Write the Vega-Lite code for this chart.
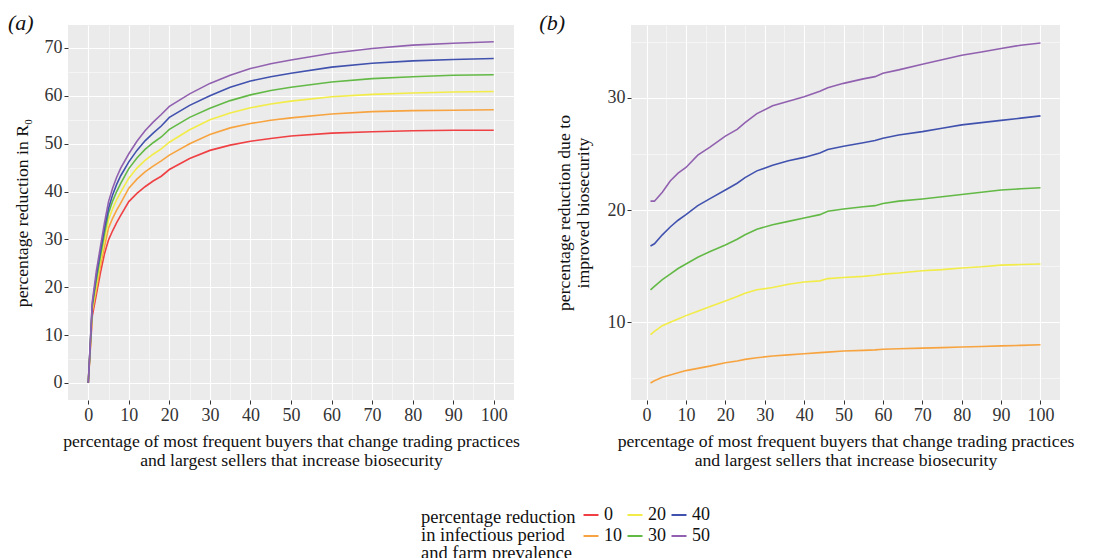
{
  "$schema": "https://vega.github.io/schema/vega-lite/v6.json",
  "padding": {"left": 8, "top": 12, "right": 5, "bottom": 5},
  "config": {
    "font": "Liberation Serif",
    "view": {"stroke": null, "fill": "#EBEBEB"},
    "axis": {
      "domain": false, "grid": true, "gridColor": "#FFFFFF",
      "tickColor": "#333333", "tickSize": 4, "tickWidth": 1,
      "labelFont": "Liberation Serif", "labelFontSize": 18, "labelColor": "#333333", "labelPadding": 2,
      "titleFont": "Liberation Serif", "titleFontSize": 17.7, "titleFontWeight": "normal", "titleColor": "#111111"
    },
    "title": {"font": "Liberation Serif", "fontSize": 22, "fontStyle": "italic", "fontWeight": "normal", "color": "#111111", "anchor": "start", "frame": "bounds", "baseline": "bottom", "offset": -10},
    "legend": {
      "titleFont": "Liberation Serif", "titleFontSize": 18.5, "titleFontWeight": "normal", "titleColor": "#111111",
      "labelFont": "Liberation Serif", "labelFontSize": 18, "labelColor": "#111111"
    }
  },
  "datasets": {
    "a": [
      {"x": 0, "0": 0, "10": 0, "20": 0, "30": 0, "40": 0, "50": 0},
      {"x": 1, "0": 14, "10": 15, "20": 15.5, "30": 16, "40": 16.5, "50": 17},
      {"x": 2, "0": 18.5, "10": 19.5, "20": 20.5, "30": 21.5, "40": 22.5, "50": 23.4},
      {"x": 3, "0": 23, "10": 24.5, "20": 25.5, "30": 26.5, "40": 27.5, "50": 28.5},
      {"x": 4, "0": 27, "10": 28.5, "20": 30, "30": 31.2, "40": 32.3, "50": 33.5},
      {"x": 5, "0": 29.9, "10": 32.4, "20": 34.1, "30": 35.5, "40": 36.5, "50": 37.9},
      {"x": 6, "0": 31.8, "10": 34.4, "20": 36.4, "30": 38, "40": 39.3, "50": 40.7},
      {"x": 7, "0": 33.5, "10": 36.1, "20": 38.3, "30": 40, "40": 41.5, "50": 43},
      {"x": 8, "0": 35, "10": 37.6, "20": 39.9, "30": 41.7, "40": 43.3, "50": 44.9},
      {"x": 10, "0": 37.9, "10": 40.7, "20": 42.8, "30": 44.8, "40": 46.2, "50": 47.9},
      {"x": 12, "0": 39.6, "10": 42.6, "20": 44.9, "30": 47, "40": 48.6, "50": 50.5},
      {"x": 14, "0": 41, "10": 44.1, "20": 46.5, "30": 48.8, "40": 50.6, "50": 52.7},
      {"x": 16, "0": 42.2, "10": 45.3, "20": 47.8, "30": 50.2, "40": 52.2, "50": 54.5},
      {"x": 18, "0": 43.2, "10": 46.4, "20": 48.9, "30": 51.4, "40": 53.7, "50": 56.1},
      {"x": 20, "0": 44.6, "10": 47.6, "20": 50.3, "30": 53, "40": 55.5, "50": 57.8},
      {"x": 25, "0": 46.9, "10": 50, "20": 52.9, "30": 55.5, "40": 58, "50": 60.4},
      {"x": 30, "0": 48.6, "10": 51.9, "20": 55, "30": 57.4, "40": 60, "50": 62.6},
      {"x": 35, "0": 49.7, "10": 53.3, "20": 56.4, "30": 59, "40": 61.8, "50": 64.3},
      {"x": 40, "0": 50.5, "10": 54.2, "20": 57.5, "30": 60.2, "40": 63.1, "50": 65.7},
      {"x": 45, "0": 51.1, "10": 54.9, "20": 58.3, "30": 61.1, "40": 64, "50": 66.7},
      {"x": 50, "0": 51.6, "10": 55.4, "20": 58.9, "30": 61.8, "40": 64.7, "50": 67.5},
      {"x": 60, "0": 52.2, "10": 56.2, "20": 59.8, "30": 62.9, "40": 66, "50": 68.9},
      {"x": 70, "0": 52.5, "10": 56.7, "20": 60.3, "30": 63.6, "40": 66.8, "50": 69.9},
      {"x": 80, "0": 52.7, "10": 56.9, "20": 60.6, "30": 64, "40": 67.3, "50": 70.6},
      {"x": 90, "0": 52.8, "10": 57, "20": 60.8, "30": 64.3, "40": 67.6, "50": 71},
      {"x": 100, "0": 52.8, "10": 57.1, "20": 60.9, "30": 64.4, "40": 67.8, "50": 71.3}
    ],
    "b": [
      {"x": 1, "10": 4.6, "20": 8.9, "30": 12.9, "40": 16.8, "50": 20.8},
      {"x": 2, "10": 4.8, "20": 9.2, "30": 13.2, "40": 17.0, "50": 20.8},
      {"x": 4, "10": 5.1, "20": 9.7, "30": 13.8, "40": 17.8, "50": 21.6},
      {"x": 6, "10": 5.3, "20": 10.0, "30": 14.3, "40": 18.5, "50": 22.6},
      {"x": 8, "10": 5.5, "20": 10.3, "30": 14.8, "40": 19.1, "50": 23.3},
      {"x": 10, "10": 5.7, "20": 10.6, "30": 15.2, "40": 19.6, "50": 23.8},
      {"x": 13, "10": 5.9, "20": 11.0, "30": 15.8, "40": 20.4, "50": 24.9},
      {"x": 16, "10": 6.1, "20": 11.4, "30": 16.3, "40": 21.0, "50": 25.6},
      {"x": 20, "10": 6.4, "20": 11.9, "30": 16.9, "40": 21.8, "50": 26.6},
      {"x": 23, "10": 6.55, "20": 12.3, "30": 17.4, "40": 22.4, "50": 27.2},
      {"x": 25, "10": 6.7, "20": 12.6, "30": 17.8, "40": 22.9, "50": 27.8},
      {"x": 28, "10": 6.85, "20": 12.9, "30": 18.3, "40": 23.5, "50": 28.6},
      {"x": 32, "10": 7.0, "20": 13.1, "30": 18.7, "40": 24.0, "50": 29.3},
      {"x": 36, "10": 7.1, "20": 13.4, "30": 19.0, "40": 24.4, "50": 29.7},
      {"x": 40, "10": 7.2, "20": 13.6, "30": 19.3, "40": 24.7, "50": 30.1},
      {"x": 44, "10": 7.3, "20": 13.7, "30": 19.6, "40": 25.1, "50": 30.6},
      {"x": 46, "10": 7.35, "20": 13.9, "30": 19.9, "40": 25.4, "50": 30.9},
      {"x": 50, "10": 7.45, "20": 14.0, "30": 20.1, "40": 25.7, "50": 31.3},
      {"x": 55, "10": 7.5, "20": 14.1, "30": 20.3, "40": 26.0, "50": 31.7},
      {"x": 58, "10": 7.55, "20": 14.2, "30": 20.4, "40": 26.2, "50": 31.9},
      {"x": 60, "10": 7.6, "20": 14.3, "30": 20.6, "40": 26.4, "50": 32.2},
      {"x": 64, "10": 7.65, "20": 14.4, "30": 20.8, "40": 26.7, "50": 32.5},
      {"x": 70, "10": 7.7, "20": 14.6, "30": 21.0, "40": 27.0, "50": 33.0},
      {"x": 75, "10": 7.75, "20": 14.7, "30": 21.2, "40": 27.3, "50": 33.4},
      {"x": 80, "10": 7.8, "20": 14.85, "30": 21.4, "40": 27.6, "50": 33.8},
      {"x": 85, "10": 7.85, "20": 14.95, "30": 21.6, "40": 27.8, "50": 34.1},
      {"x": 90, "10": 7.9, "20": 15.1, "30": 21.8, "40": 28.0, "50": 34.4},
      {"x": 95, "10": 7.95, "20": 15.15, "30": 21.9, "40": 28.2, "50": 34.7},
      {"x": 100, "10": 8.0, "20": 15.2, "30": 22.0, "40": 28.4, "50": 34.9}
    ]
  },
  "hconcat": [
    {
      "width": 446, "height": 375,
      "title": {"text": "(a)", "dx": -5},
      "data": {"name": "a"},
      "transform": [{"fold": ["0", "10", "20", "30", "40", "50"], "as": ["level", "y"]}],
      "mark": {"type": "line", "strokeWidth": 1.6, "clip": true},
      "encoding": {
        "x": {
          "field": "x", "type": "quantitative",
          "scale": {"domain": [-5, 105], "nice": false, "zero": false},
          "axis": {
            "values": [0, 5, 10, 15, 20, 25, 30, 35, 40, 45, 50, 55, 60, 65, 70, 75, 80, 85, 90, 95, 100],
            "labelExpr": "datum.value % 10 == 0 ? datum.label : ''",
            "gridWidth": {"condition": {"test": "datum.value % 10 != 0", "value": 0.5}, "value": 1.1},
            "tickOpacity": {"condition": {"test": "datum.value % 10 != 0", "value": 0}, "value": 1},
            "title": ["percentage of most frequent buyers that change trading practices", "and largest sellers that increase biosecurity"],
            "titlePadding": 8
          }
        },
        "y": {
          "field": "y", "type": "quantitative",
          "scale": {"domain": [-3.56, 74.8], "nice": false, "zero": false},
          "axis": {
            "values": [0, 5, 10, 15, 20, 25, 30, 35, 40, 45, 50, 55, 60, 65, 70],
            "labelExpr": "datum.value % 10 == 0 ? datum.label : ''",
            "gridWidth": {"condition": {"test": "datum.value % 10 != 0", "value": 0.5}, "value": 1.1},
            "tickOpacity": {"condition": {"test": "datum.value % 10 != 0", "value": 0}, "value": 1},
            "title": "percentage reduction in R₀",
            "titlePadding": 13
          }
        },
        "color": {
          "field": "level", "type": "nominal",
          "scale": {"domain": ["0", "20", "40", "10", "30", "50"], "range": ["#EF4044", "#F2EC48", "#4152AE", "#F7A440", "#63B946", "#9161B0"]},
          "legend": {
            "title": ["percentage reduction", "in infectious period", "and farm prevalence"],
            "orient": "none", "legendX": 353, "legendY": 481,
            "direction": "horizontal", "columns": 3,
            "titleOrient": "left", "titleAlign": "left", "titleBaseline": "top", "titleLineHeight": 18, "titlePadding": 6,
            "symbolType": "stroke", "symbolSize": 225, "symbolStrokeWidth": 2,
            "labelOffset": 4, "columnPadding": 1, "rowPadding": 3
          }
        }
      }
    },
    {
      "width": 429, "height": 375,
      "title": {"text": "(b)", "dx": -16},
      "data": {"name": "b"},
      "transform": [{"fold": ["10", "20", "30", "40", "50"], "as": ["level", "y"]}],
      "mark": {"type": "line", "strokeWidth": 1.6, "clip": true},
      "encoding": {
        "x": {
          "field": "x", "type": "quantitative",
          "scale": {"domain": [-3.95, 104.95], "nice": false, "zero": false},
          "axis": {
            "values": [0, 5, 10, 15, 20, 25, 30, 35, 40, 45, 50, 55, 60, 65, 70, 75, 80, 85, 90, 95, 100],
            "labelExpr": "datum.value % 10 == 0 ? datum.label : ''",
            "gridWidth": {"condition": {"test": "datum.value % 10 != 0", "value": 0.5}, "value": 1.1},
            "tickOpacity": {"condition": {"test": "datum.value % 10 != 0", "value": 0}, "value": 1},
            "title": ["percentage of most frequent buyers that change trading practices", "and largest sellers that increase biosecurity"],
            "titlePadding": 8
          }
        },
        "y": {
          "field": "y", "type": "quantitative",
          "scale": {"domain": [3.08, 36.5], "nice": false, "zero": false},
          "axis": {
            "values": [5, 10, 15, 20, 25, 30, 35],
            "labelExpr": "datum.value % 10 == 0 ? datum.label : ''",
            "gridWidth": {"condition": {"test": "datum.value % 10 != 0", "value": 0.5}, "value": 1.1},
            "tickOpacity": {"condition": {"test": "datum.value % 10 != 0", "value": 0}, "value": 1},
            "title": ["percentage reduction due to", "improved biosecurity"],
            "titlePadding": 14
          }
        },
        "color": {"field": "level", "type": "nominal"}
      }
    }
  ],
  "spacing": 19,
  "resolve": {"scale": {"color": "shared"}}
}
